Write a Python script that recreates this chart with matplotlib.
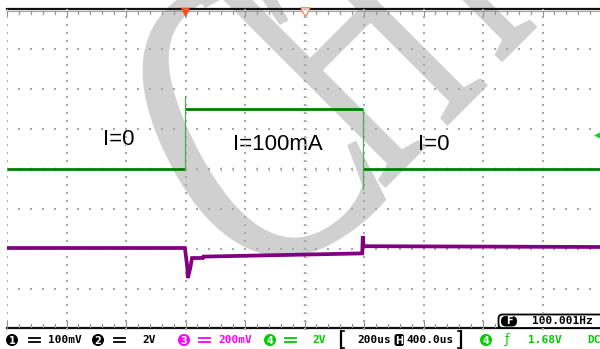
import numpy as np
import matplotlib
matplotlib.use("Agg")
import matplotlib.pyplot as plt
from matplotlib.textpath import TextPath
from matplotlib.font_manager import FontProperties
from matplotlib.patches import PathPatch, FancyBboxPatch, Circle
import matplotlib.transforms as mtransforms

# ---------------- data (screen divisions) ----------------
# channel 2 (green): current control
green_low = 0.0
green_high = 1.5
t_on = 2.99
t_off = 5.975
green_rise_peak = 1.8
green_fall_min = -0.5

# channel 3 (purple): output voltage response
purple_t = [0.0, 2.99, 3.03, 3.04, 3.08, 3.11, 3.29, 3.30, 5.97, 5.98, 5.99, 6.02, 10.0]
purple_v = [-1.975, -1.975, -2.45, -2.725, -2.475, -2.225, -2.225, -2.19, -2.11, -1.675, -1.90, -1.93, -1.95]

labels = ["I=0", "I=100mA", "I=0"]
status_ch = ["100mV", "2V", "200mV", "2V"]
timebase = "200us"
hpos = "400.0us"
trig_level = "1.68V"
freq = "100.001Hz"
trig_div = 0.85

# ---------------- figure ----------------
W, H = 600, 349
fig = plt.figure(figsize=(6, 3.49), dpi=100)
fig.patch.set_facecolor("white")

bg = fig.add_axes([0, 0, 1, 1])
bg.set_xlim(0, W)
bg.set_ylim(H, 0)
bg.axis("off")

# watermark glyphs
def glyph(ch, cx, cy, w, h, ang):
    tp = TextPath((0, 0), ch, size=100, prop=FontProperties(family="Liberation Serif"))
    bb = tp.get_extents()
    tr = (mtransforms.Affine2D()
          .translate(-(bb.x0 + bb.x1) / 2, -(bb.y0 + bb.y1) / 2)
          .scale(w / bb.width, -h / bb.height)
          .rotate_deg(-ang)
          .translate(cx, cy))
    bg.add_patch(PathPatch(tr.transform_path(tp), fc="#d0d0d0", ec="none", zorder=1))

glyph("C", 248, 124, 175, 290, 28)
glyph("H", 343, 43, 145, 265, 45)
glyph("I", 426, -49, 50, 265, 45)

# screen axes
x0, y0 = 7, 9
dx, dy = 59.5, 40.0
ax = fig.add_axes([x0 / W, (H - (y0 + 8 * dy)) / H, 10 * dx / W, 8 * dy / H])
ax.set_xlim(0, 10)
ax.set_ylim(-4, 4)
ax.set_facecolor("none")
ax.axis("off")
ax.set_zorder(2)

# grid dots
minor_y = np.arange(-4, 4.001, 0.2)
minor_x = np.arange(0, 10.001, 0.2)
gx, gy = [], []
for i in range(0, 10):
    gx += [i] * len(minor_y)
    gy += list(minor_y)
for j in range(-3, 4):
    gx += list(minor_x)
    gy += [j] * len(minor_x)
ax.scatter(gx, gy, s=1.2, marker="s", color="#a8a8a8", linewidths=0, zorder=2)
# centre-axis ticks
ax.scatter([5] * len(minor_y), minor_y, s=6, marker="_", color="#b0b0b0", linewidths=0.7, zorder=2)
ax.scatter(minor_x, [0] * len(minor_x), s=6, marker="|", color="#b0b0b0", linewidths=0.7, zorder=2)

# traces
ax.plot([0, t_on], [green_low, green_low], color="#008000", lw=2.0, solid_capstyle="butt", zorder=4)
ax.plot([t_on, t_off], [green_high, green_high], color="#008000", lw=2.0, solid_capstyle="butt", zorder=4)
ax.plot([t_off, 10], [green_low, green_low], color="#008000", lw=2.0, solid_capstyle="butt", zorder=4)
ax.plot([t_on, t_on], [green_low, green_rise_peak], color="#4caf4c", lw=0.9, zorder=4)
ax.plot([t_off, t_off], [green_fall_min, green_high], color="#4caf4c", lw=0.9, zorder=4)
ax.plot(purple_t, purple_v, color="#800080", lw=2.7, solid_joinstyle="miter", zorder=4)

# labels
lab_font = dict(family="Liberation Sans", fontsize=16, color="black", zorder=5)
bg.text(103, 145, labels[0], ha="left", va="baseline", **lab_font)
bg.text(233, 150, labels[1], ha="left", va="baseline", **lab_font)
bg.text(418, 150, labels[2], ha="left", va="baseline", **lab_font)

# top & bottom frame lines with ticks
bg.plot([x0, W], [9, 9], color="#101010", lw=1.6, zorder=3)
bg.plot([x0, W], [11, 11], color="#a0a0a0", lw=0.8, zorder=3)
bg.plot([x0, W], [328, 328], color="#101010", lw=1.6, zorder=3)
for k in range(0, 51):
    xp = x0 + k * dx / 5
    if xp > W:
        break
    ln = 5 if k % 5 == 0 else 3
    bg.plot([xp, xp], [11, 11 + ln], color="#909090", lw=0.8, zorder=3)
    bg.plot([xp, xp], [327, 327 - ln], color="#909090", lw=0.8, zorder=3)

# trigger markers
bg.scatter([x0 + t_on * dx], [12], marker="v", s=45, color="#ff4a10", linewidths=0, zorder=5)
bg.scatter([x0 + 5 * dx], [12], marker="v", s=45, facecolor="white", edgecolor="#ff7040", linewidths=0.8, zorder=5)
bg.scatter([598], [y0 + (4 - trig_div) * dy], marker="<", s=40, color="#00dd00", linewidths=0, zorder=5)

# ---------------- status bar ----------------
mono = dict(family="DejaVu Sans Mono", fontsize=8, fontweight="bold", va="center", ha="left")
yc = 340
BLK, MAG, GRN = "#000000", "#ff00ff", "#00cc00"

def circ_num(x, n, col):
    bg.add_patch(Circle((x, yc), 6.0, fc=col, ec="none", zorder=5))
    bg.text(x, yc + 0.5, str(n), color="white", fontsize=7, fontweight="bold",
            family="DejaVu Sans", ha="center", va="center", zorder=6)

def dc_sym(x, col):
    bg.plot([x, x + 11], [yc - 2, yc - 2], color=col, lw=1.3, zorder=5)
    for s in range(3):
        bg.plot([x + s * 4, x + s * 4 + 3], [yc + 1.5, yc + 1.5], color=col, lw=1.3, zorder=5)

circ_num(12, 1, BLK); dc_sym(29, BLK); bg.text(48, yc, status_ch[0], color=BLK, **mono)
circ_num(98, 2, BLK); dc_sym(114, BLK); bg.text(142, yc, status_ch[1], color=BLK, **mono)
circ_num(184, 3, MAG); dc_sym(199, MAG); bg.text(218, yc, status_ch[2], color=MAG, **mono)
circ_num(270, 4, GRN); dc_sym(285, GRN); bg.text(312, yc, status_ch[3], color=GRN, **mono)

# bracket box
for xb, d in [(341, 1), (461, -1)]:
    bg.plot([xb, xb], [331, 348], color=BLK, lw=1.6, zorder=5)
    bg.plot([xb, xb + 3 * d], [331, 331], color=BLK, lw=1.2, zorder=5)
    bg.plot([xb, xb + 3 * d], [348, 348], color=BLK, lw=1.2, zorder=5)
bg.text(357, yc, timebase, color=BLK, **mono)
bg.add_patch(FancyBboxPatch((394.5, 334), 9.5, 12, boxstyle="round,pad=0,rounding_size=2.5",
                            fc=BLK, ec="none", zorder=5))
bg.text(399.3, yc + 0.5, "H", color="white", fontsize=7, fontweight="bold",
        family="DejaVu Sans", ha="center", va="center", zorder=6)
bg.text(406, yc, hpos, color=BLK, **mono)

circ_num(486, 4, GRN)
bg.text(505, yc, "\u0192", color=GRN, family="DejaVu Sans", fontsize=9, va="center", ha="left", zorder=5)
bg.text(528, yc, trig_level, color=GRN, **mono)
bg.text(587, yc, "DC", color=GRN, **mono)

# frequency box
bg.add_patch(FancyBboxPatch((498.5, 314.5), 110, 13.5, boxstyle="round,pad=0,rounding_size=4",
                            fc="white", ec=BLK, lw=1.3, zorder=5))
bg.add_patch(FancyBboxPatch((501, 316), 16, 10.5, boxstyle="round,pad=0,rounding_size=5",
                            fc=BLK, ec="none", zorder=6))
bg.text(509, 321.5, "F", color="white", fontsize=7, fontweight="bold",
        family="DejaVu Sans", ha="center", va="center", zorder=7)
bg.text(532, 321.5, freq, color=BLK, zorder=7, **mono)

fig.savefig("out.png", dpi=100, facecolor="white")
